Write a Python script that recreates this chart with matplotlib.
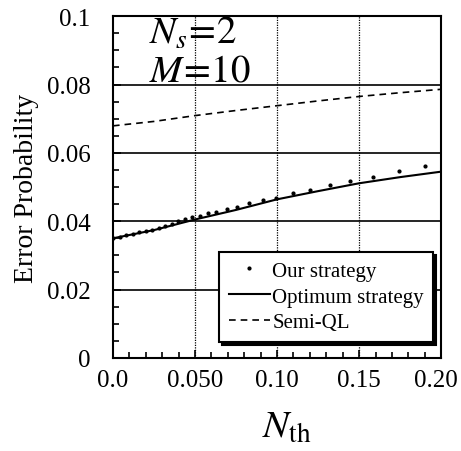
import matplotlib
matplotlib.use("Agg")
import matplotlib.pyplot as plt
import matplotlib.transforms as mtransforms
import numpy as np

plt.rcParams['font.family'] = ['Liberation Serif', 'DejaVu Serif']
plt.rcParams['mathtext.fontset'] = 'stix'

# data
nth_line = [0.0, 0.025, 0.05, 0.075, 0.10, 0.125, 0.15, 0.175, 0.20]
optimum = [0.0350, 0.0374, 0.0405, 0.0433, 0.0464, 0.0488, 0.0511, 0.0529, 0.0545]
semi_ql = [0.0679, 0.0692, 0.0709, 0.0724, 0.0738, 0.0752, 0.0765, 0.0776, 0.0786]

nth_dots = [0.0, 0.004, 0.008, 0.012, 0.016, 0.020, 0.024, 0.028, 0.032, 0.036,
            0.0396, 0.0439, 0.048, 0.053, 0.058, 0.063, 0.0695, 0.0756, 0.083,
            0.0915, 0.0994, 0.1096, 0.120, 0.132, 0.1445, 0.1587, 0.174, 0.190]
ours = [0.0351, 0.0355, 0.0359, 0.0363, 0.0367, 0.0371, 0.0375, 0.0380, 0.0386, 0.0393,
        0.0402, 0.0406, 0.0411, 0.0416, 0.0423, 0.0428, 0.0435, 0.0441, 0.0452,
        0.0461, 0.0467, 0.0483, 0.0492, 0.0507, 0.0517, 0.0530, 0.0547, 0.0561]

xticks = [0.0, 0.05, 0.10, 0.15, 0.20]
xlabels = ['0.0', '0.050', '0.10', '0.15', '0.20']
yticks = [0, 0.02, 0.04, 0.06, 0.08, 0.1]
ylabels = ['0', '0.02', '0.04', '0.06', '0.08', '0.1']

fig = plt.figure(figsize=(4.61, 4.52), dpi=100)
ax = fig.add_axes([0.245, 0.206, 0.712, 0.756])

# grid
for y in yticks[1:-1]:
    ax.axhline(y, color='black', lw=1.2, zorder=1)
for x in xticks[1:-1]:
    ax.axvline(x, color='black', lw=0.9, ls=(0, (1, 1)), zorder=1)

ax.plot(nth_dots, ours, 'k.', ms=4, label='Our strategy', zorder=3)
ax.plot(nth_line, optimum, 'k-', lw=1.5, label='Optimum strategy', zorder=3)
ax.plot(nth_line, semi_ql, color='black', lw=1.2, ls=(0, (4, 3)), label='Semi-QL', zorder=3)

ax.set_xlim(0, 0.2)
ax.set_ylim(0, 0.1)
ax.set_xticks(xticks)
ax.set_xticklabels(xlabels)
ax.set_yticks(yticks)
ax.set_yticklabels(ylabels)
ax.set_xticks(np.arange(0, 0.2001, 0.01), minor=True)
ax.set_yticks(np.arange(0, 0.1001, 0.005), minor=True)
ax.tick_params(which='both', direction='in', labelsize=18, width=1.2)
ax.tick_params(which='major', length=6)
ax.tick_params(which='minor', length=4)
ax.tick_params(axis='x', pad=8)
ax.tick_params(axis='y', pad=16)
for s in ax.spines.values():
    s.set_linewidth(1.5)

# nudge last x label so it stays inside the picture
last = ax.get_xticklabels()[-1]
last.set_transform(last.get_transform() +
                   mtransforms.ScaledTranslation(-4 / 72, 0, fig.dpi_scale_trans))

ax.set_ylabel('Error Probability', fontsize=20, labelpad=6)
ax.set_xlabel(r'$N_{\rm th}$', fontsize=28)
ax.xaxis.set_label_coords(0.53, -0.15)

ax.text(0.11, 0.95, r'$N_s\!=\!2$', transform=ax.transAxes, fontsize=28, va='center')
ax.text(0.11, 0.84, r'$M\!=\!10$', transform=ax.transAxes, fontsize=28, va='center')

leg = ax.legend(loc='lower right', bbox_to_anchor=(0.976, 0.047), fontsize=15,
                fancybox=False, edgecolor='black', framealpha=1,
                shadow={'color': 'black', 'alpha': 1},
                handlelength=2.0, handletextpad=0.1, borderpad=0.45,
                labelspacing=0.3, borderaxespad=0)
leg.get_frame().set_linewidth(1.5)

fig.savefig('out.png', dpi=100)
